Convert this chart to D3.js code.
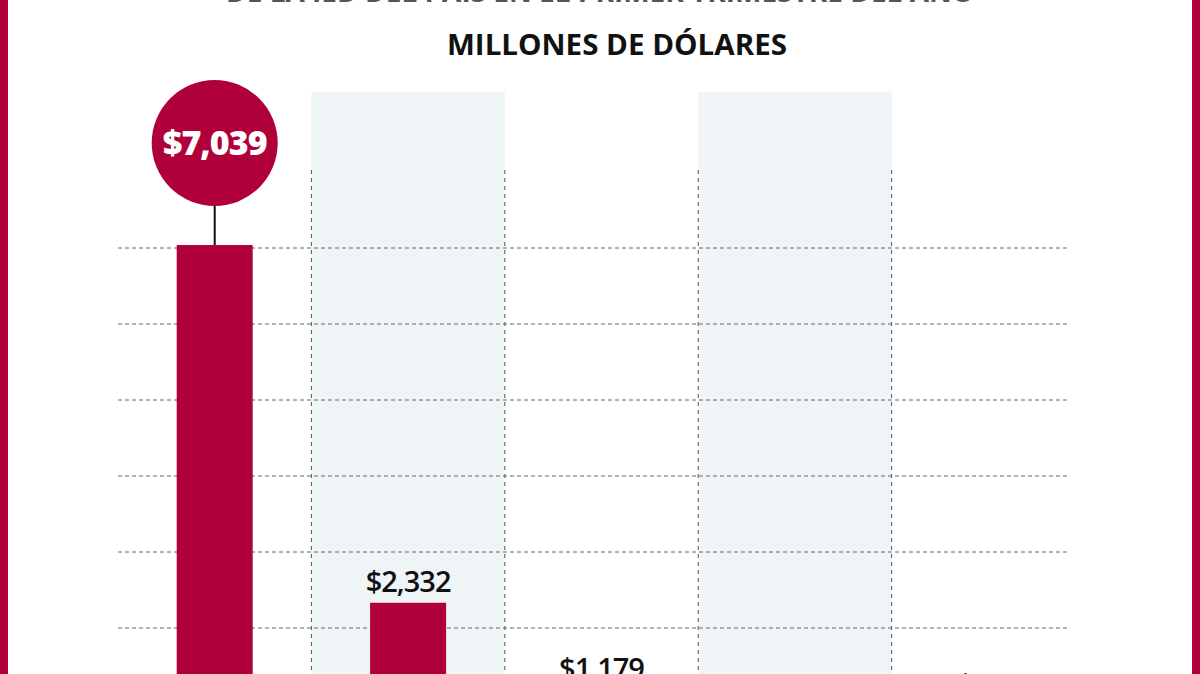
<!DOCTYPE html>
<html><head><meta charset="utf-8">
<script src="https://cdn.jsdelivr.net/npm/d3@7"></script>
<style>body{margin:0;background:#fff}svg{display:block}</style>
</head><body>
<svg id="c" width="1200" height="674"></svg>
<script>
const categories = ["A","B","C","D","E"];
const values = [7039, 2332, 1179, 600, 980];
const labels = ["$7,039","$2,332","$1,179","$600","$980"];
const gridTicks = [1000,2000,3000,4000,5000,6000,7000];
const title = "DE LA IED DEL PAÍS EN EL PRIMER TRIMESTRE DEL AÑO";
const subtitle = "MILLONES DE DÓLARES";

const red = "#b0003a";
const svg = d3.select("#c");
const x = d3.scaleBand().domain(categories).range([118, 1085]).paddingInner(0).paddingOuter(0);
const y = d3.scaleLinear().domain([0, 7000]).range([780, 248]);

svg.append("rect").attr("x",0).attr("y",0).attr("width",8).attr("height",674).attr("fill",red);
svg.append("rect").attr("x",1192).attr("y",0).attr("width",8).attr("height",674).attr("fill",red);

svg.selectAll(".band").data(categories.filter((d,i)=>i%2===1)).enter().append("rect")
  .attr("x",d=>x(d)).attr("y",92).attr("width",x.bandwidth()).attr("height",700).attr("fill","#eff4f7");

svg.selectAll(".vs").data(categories.slice(1)).enter().append("line")
  .attr("x1",d=>x(d)).attr("x2",d=>x(d)).attr("y1",170).attr("y2",780)
  .attr("stroke","#555").attr("stroke-width",1).attr("stroke-dasharray","4,4");

svg.selectAll(".g").data(gridTicks).enter().append("line")
  .attr("x1",118).attr("x2",1067).attr("y1",d=>y(d)).attr("y2",d=>y(d))
  .attr("stroke","#666").attr("stroke-width",1).attr("stroke-dasharray","4,3");

const bw = 76;
const cx = d => x(d) + x.bandwidth()/2;
svg.selectAll(".bar").data(values).enter().append("rect")
  .attr("x",(d,i)=>cx(categories[i]) - bw/2).attr("y",d=>y(d))
  .attr("width",bw).attr("height",d=>y(0)-y(d)).attr("fill",red);

const c0 = cx(categories[0]);
svg.append("line").attr("x1",c0).attr("x2",c0).attr("y1",200).attr("y2",y(values[0]))
  .attr("stroke","#111").attr("stroke-width",2);
svg.append("circle").attr("cx",c0).attr("cy",143).attr("r",63).attr("fill",red);
svg.append("text").attr("x",c0).attr("y",155).attr("text-anchor","middle")
  .attr("font-family","Open Sans").attr("font-weight",800).attr("font-size",34)
  .attr("fill","#fff").attr("letter-spacing",-1).text(labels[0]);

svg.selectAll(".lbl").data(values.slice(1)).enter().append("text")
  .attr("x",(d,i)=>cx(categories[i+1])).attr("y",d=>y(d)-11)
  .attr("text-anchor","middle").attr("font-family","Open Sans").attr("font-weight",600)
  .attr("font-size",29).attr("fill","#111").attr("letter-spacing",-1)
  .text((d,i)=>labels[i+1]);

svg.append("text").attr("x",600).attr("y",2).attr("text-anchor","middle")
  .attr("font-family","Open Sans").attr("font-weight",700).attr("font-size",28)
  .attr("fill","#555").text(title);
svg.append("text").attr("x",617).attr("y",55).attr("text-anchor","middle")
  .attr("font-family","Open Sans").attr("font-weight",700).attr("font-size",28)
  .attr("fill","#111").attr("textLength",340).attr("lengthAdjust","spacingAndGlyphs").text(subtitle);
</script>
</body></html>
